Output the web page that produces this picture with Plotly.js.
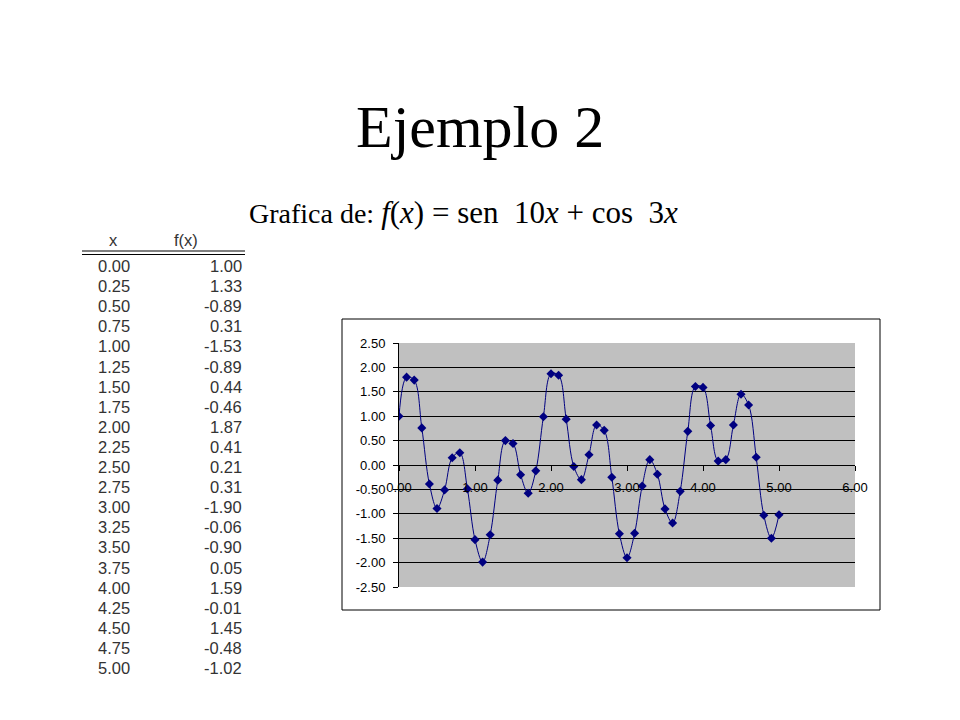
<!DOCTYPE html>
<html>
<head>
<meta charset="utf-8">
<script src="https://cdn.plot.ly/plotly-3.0.1.min.js"></script>
<style>
  html, body { margin: 0; padding: 0; background: #fff; }
  #chart { width: 960px; height: 720px; }
</style>
</head>
<body>
<div id="chart"></div>
<script>
// points of the plotted curve (step 0.1)
const curveX = [0.0, 0.1, 0.2, 0.3, 0.4, 0.5, 0.6, 0.7, 0.8, 0.9,
  1.0, 1.1, 1.2, 1.3, 1.4, 1.5, 1.6, 1.7, 1.8, 1.9,
  2.0, 2.1, 2.2, 2.3, 2.4, 2.5, 2.6, 2.7, 2.8, 2.9,
  3.0, 3.1, 3.2, 3.3, 3.4, 3.5, 3.6, 3.7, 3.8, 3.9,
  4.0, 4.1, 4.2, 4.3, 4.4, 4.5, 4.6, 4.7, 4.8, 4.9, 5.0];
const curveY = [1.00, 1.80, 1.74, 0.76, -0.39, -0.89, -0.51, 0.15, 0.25, -0.49,
  -1.53, -1.99, -1.43, -0.31, 0.50, 0.44, -0.20, -0.58, -0.12, 0.99,
  1.87, 1.84, 0.94, -0.03, -0.30, 0.21, 0.82, 0.71, -0.25, -1.41,
  -1.90, -1.40, -0.43, 0.11, -0.19, -0.90, -1.19, -0.54, 0.69, 1.61,
  1.59, 0.81, 0.08, 0.11, 0.82, 1.45, 1.23, 0.16, -1.03, -1.50, -1.02];

// table on the left
const tableX = ['0.00', '0.25', '0.50', '0.75', '1.00', '1.25', '1.50', '1.75', '2.00', '2.25',
  '2.50', '2.75', '3.00', '3.25', '3.50', '3.75', '4.00', '4.25', '4.50', '4.75', '5.00'];
const tableF = ['1.00', '1.33', '-0.89', '0.31', '-1.53', '-0.89', '0.44', '-0.46', '1.87', '0.41',
  '0.21', '0.31', '-1.90', '-0.06', '-0.90', '0.05', '1.59', '-0.01', '1.45', '-0.48', '-1.02'];

const yTicks = [2.5, 2.0, 1.5, 1.0, 0.5, 0.0, -0.5, -1.0, -1.5, -2.0, -2.5];
const xTicks = [0, 1, 2, 3, 4, 5, 6];

const W = 960, H = 720;
const px = (x) => x / W;
const py = (y) => 1 - y / H;

const navy = '#000080';
const serif = 'Liberation Serif, Times New Roman, serif';
const tableFont = { family: 'Arial, Liberation Sans, sans-serif', size: 16.5, color: '#333' };

const annotations = [
  {
    text: 'Ejemplo 2',
    x: px(480), y: py(162), xref: 'paper', yref: 'paper',
    xanchor: 'center', yanchor: 'bottom', showarrow: false,
    font: { family: serif, size: 60, color: '#000' },
  },
  {
    text: 'Grafica de: <span style="font-size:31px"><i>f</i>(<i>x</i>) = sen  10<i>x</i> + cos  3<i>x</i></span>',
    x: px(247), y: py(212), xref: 'paper', yref: 'paper',
    xanchor: 'left', yanchor: 'middle', showarrow: false,
    font: { family: serif, size: 28, color: '#000' },
  },
  {
    text: 'x', x: px(113), y: py(240), xref: 'paper', yref: 'paper',
    xanchor: 'center', yanchor: 'middle', showarrow: false, font: tableFont,
  },
  {
    text: 'f(x)', x: px(186), y: py(240), xref: 'paper', yref: 'paper',
    xanchor: 'center', yanchor: 'middle', showarrow: false, font: tableFont,
  },
];

tableX.forEach((t, i) => {
  const yy = py(266 + i * 20.1);
  annotations.push({
    text: t, x: px(96), y: yy, xref: 'paper', yref: 'paper',
    xanchor: 'left', yanchor: 'middle', showarrow: false, font: tableFont,
  });
  annotations.push({
    text: tableF[i], x: px(244), y: yy, xref: 'paper', yref: 'paper',
    xanchor: 'right', yanchor: 'middle', showarrow: false, font: tableFont,
  });
});

const shapes = [
  // chart frame
  {
    type: 'rect', xref: 'paper', yref: 'paper',
    x0: px(342), x1: px(880), y0: py(610), y1: py(319),
    line: { color: '#000', width: 1 }, fillcolor: 'rgba(0,0,0,0)', layer: 'below',
  },
  // double rule under table header
  {
    type: 'line', xref: 'paper', yref: 'paper',
    x0: px(82), x1: px(245), y0: py(251), y1: py(251),
    line: { color: '#000', width: 1.2 },
  },
  {
    type: 'line', xref: 'paper', yref: 'paper',
    x0: px(82), x1: px(245), y0: py(254.5), y1: py(254.5),
    line: { color: '#000', width: 1.2 },
  },
];

const trace = {
  x: curveX,
  y: curveY,
  type: 'scatter',
  mode: 'lines+markers',
  line: { color: navy, width: 1, shape: 'spline', smoothing: 1 },
  marker: { symbol: 'diamond', size: 7, color: navy },
  hoverinfo: 'skip',
};

const yDomain = [py(587), py(343)];

const layout = {
  width: W,
  height: H,
  margin: { t: 0, b: 0, l: 0, r: 0 },
  paper_bgcolor: '#fff',
  plot_bgcolor: '#c0c0c0',
  showlegend: false,
  font: { family: 'Arial, Liberation Sans, sans-serif', size: 13, color: '#000' },
  xaxis: {
    domain: [px(399), px(855)],
    range: [0, 6],
    tickvals: xTicks,
    ticktext: xTicks.map((v) => v.toFixed(2)),
    anchor: 'free',
    position: (yDomain[0] + yDomain[1]) / 2,
    showgrid: false,
    zeroline: false,
    showline: true,
    linecolor: '#000',
    linewidth: 1,
    ticks: 'outside',
    ticklen: 5,
    tickcolor: '#000',
    ticklabelstandoff: 5,
    tickfont: { size: 13, color: '#000' },
  },
  yaxis: {
    domain: yDomain,
    range: [-2.5, 2.5],
    tickvals: yTicks,
    ticktext: yTicks.map((v) => v.toFixed(2)),
    showgrid: true,
    gridcolor: '#000',
    gridwidth: 1,
    zeroline: false,
    showline: true,
    linecolor: '#000',
    linewidth: 1,
    ticks: 'outside',
    ticklen: 5,
    tickcolor: '#000',
    ticklabelstandoff: 5,
    tickfont: { size: 13, color: '#000' },
  },
  annotations: annotations,
  shapes: shapes,
};

Plotly.newPlot('chart', [trace], layout, { displayModeBar: false, staticPlot: true });
</script>
</body>
</html>
